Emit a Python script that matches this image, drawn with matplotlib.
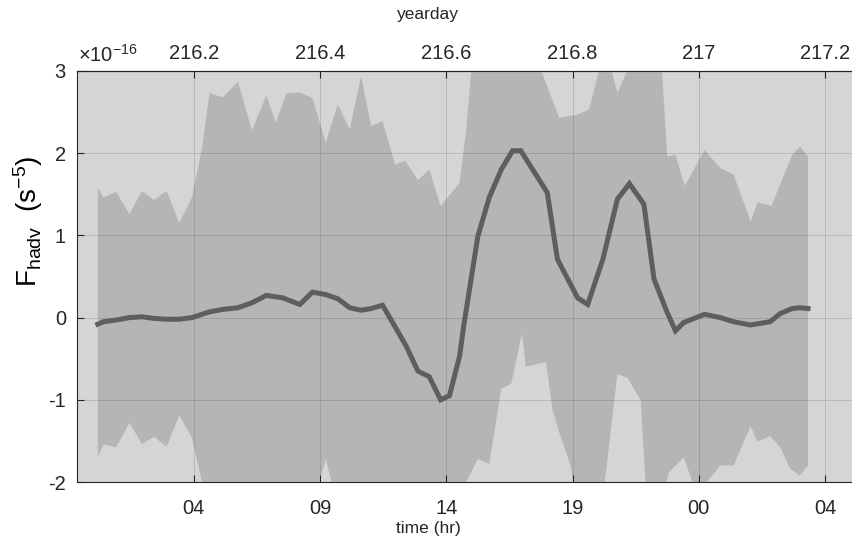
import numpy as np
import matplotlib.pyplot as plt

plt.rcParams['font.family'] = ['Liberation Sans', 'DejaVu Sans']
plt.rcParams['mathtext.fontset'] = 'custom'
plt.rcParams['mathtext.rm'] = 'Liberation Sans'
plt.rcParams['mathtext.it'] = 'Liberation Sans:italic'
plt.rcParams['axes.unicode_minus'] = False

# F_hadv, units of 1e-16 s^-5, against yearday
t_mean = [216.048, 216.057, 216.077, 216.098, 216.118, 216.137, 216.157, 216.177,
          216.197, 216.213, 216.225, 216.246, 216.270, 216.292, 216.315, 216.341,
          216.368, 216.388, 216.409, 216.428, 216.447, 216.465, 216.481, 216.499,
          216.518, 216.536, 216.555, 216.573, 216.591, 216.605, 216.621, 216.628,
          216.650, 216.668, 216.687, 216.705, 216.718, 216.760, 216.776, 216.808,
          216.824, 216.848, 216.871, 216.890, 216.913, 216.929, 216.950, 216.963,
          216.976, 217.009, 217.034, 217.055, 217.082, 217.113, 217.129, 217.148,
          217.159, 217.173]
hadv_mean = [-0.08, -0.05, -0.03, 0.00, 0.01, -0.01, -0.02, -0.02,
             0.00, 0.04, 0.07, 0.10, 0.12, 0.18, 0.27, 0.24,
             0.16, 0.31, 0.28, 0.23, 0.12, 0.09, 0.11, 0.15,
             -0.10, -0.34, -0.65, -0.72, -1.00, -0.95, -0.47, -0.08,
             0.99, 1.46, 1.80, 2.03, 2.03, 1.52, 0.71, 0.24,
             0.16, 0.71, 1.44, 1.63, 1.38, 0.47, 0.06, -0.16,
             -0.06, 0.04, 0.00, -0.05, -0.09, -0.05, 0.05, 0.11,
             0.12, 0.11]

t_up = [216.048, 216.057, 216.077, 216.098, 216.118, 216.137, 216.157, 216.177,
        216.197, 216.213, 216.225, 216.246, 216.270, 216.292, 216.315, 216.330,
        216.347, 216.368, 216.388, 216.409, 216.428, 216.447, 216.465, 216.481,
        216.499, 216.519, 216.535, 216.555, 216.573, 216.591, 216.602, 216.621,
        216.631, 216.642, 216.700, 216.738, 216.779, 216.808, 216.826, 216.852,
        216.871, 216.895, 216.920, 216.940, 216.950, 216.963, 216.978, 217.009,
        217.034, 217.055, 217.082, 217.093, 217.115, 217.148, 217.160, 217.173]
hadv_up = [1.58, 1.46, 1.53, 1.26, 1.54, 1.43, 1.54, 1.15,
           1.46, 2.06, 2.73, 2.68, 2.87, 2.28, 2.70, 2.37,
           2.73, 2.74, 2.67, 2.13, 2.59, 2.29, 2.94, 2.33,
           2.39, 1.86, 1.91, 1.67, 1.80, 1.36, 1.46, 1.64,
           2.25, 3.20, 3.60, 3.25, 2.43, 2.47, 2.53, 3.30,
           2.73, 3.15, 3.50, 3.20, 1.96, 1.98, 1.60, 2.04,
           1.82, 1.74, 1.17, 1.40, 1.36, 1.98, 2.08, 1.96]

t_lo = [216.048, 216.057, 216.077, 216.098, 216.118, 216.137, 216.157, 216.177,
        216.197, 216.225, 216.388, 216.409, 216.428, 216.605, 216.650, 216.668,
        216.687, 216.703, 216.720, 216.726, 216.758, 216.768, 216.779, 216.797,
        216.808, 216.845, 216.871, 216.887, 216.908, 216.920, 216.942, 216.953,
        216.976, 216.997, 217.034, 217.055, 217.082, 217.093, 217.113, 217.129,
        217.145, 217.160, 217.173]
hadv_lo = [-1.70, -1.54, -1.58, -1.28, -1.54, -1.45, -1.57, -1.19,
           -1.46, -2.40, -2.30, -1.72, -2.30, -2.40, -1.72, -1.78,
           -0.87, -0.80, -0.19, -0.60, -0.54, -1.11, -1.40, -1.80,
           -2.40, -2.40, -0.69, -0.73, -1.01, -2.60, -2.20, -1.88,
           -1.70, -2.15, -1.80, -1.80, -1.32, -1.51, -1.44, -1.58,
           -1.84, -1.92, -1.80]

day_ticks = [216.2, 216.4, 216.6, 216.8, 217.0, 217.2]
day_labels = ['216.2', '216.4', '216.6', '216.8', '217', '217.2']
hour_labels = ['04', '09', '14', '19', '00', '04']

fig = plt.figure(figsize=(8.53, 5.42), dpi=100)
ax = fig.add_axes([77 / 853, 60 / 542, 778 / 853, 411 / 542])
ax.set_facecolor('#d5d5d5')

ax.fill(np.r_[t_up, t_lo[::-1]], np.r_[hadv_up, hadv_lo[::-1]],
        color='#b5b5b5', lw=0, zorder=1)
ax.plot(t_mean, hadv_mean, color='#5e5e5e', lw=3.6, zorder=3,
        solid_joinstyle='miter')

ax.set_xlim(216.015, 217.2474)
ax.set_ylim(-2, 3)
ax.set_yticks([-2, -1, 0, 1, 2, 3])
ax.set_xticks(day_ticks)
ax.set_xticklabels(hour_labels)
ax.set_axisbelow(False)
ax.grid(True, color='black', alpha=0.13, lw=0.7, zorder=2)

dark = '#262626'
for s in ['left', 'bottom', 'top']:
    ax.spines[s].set_color(dark)
    ax.spines[s].set_linewidth(0.8)
ax.spines['right'].set_visible(False)
ax.tick_params(axis='x', direction='in', length=5, width=0.8, color=dark,
               labelsize=14.5, labelcolor=dark, pad=12)
ax.tick_params(axis='y', direction='in', length=5, width=0.8, color=dark,
               labelsize=14.5, labelcolor=dark, pad=8)

top = ax.secondary_xaxis('top')
top.set_xticks(day_ticks)
top.set_xticklabels(day_labels)
top.tick_params(direction='in', length=5, width=0.8, color=dark,
                labelsize=14.5, labelcolor=dark, pad=6)
top.spines['top'].set_color(dark)
top.spines['top'].set_linewidth(0.8)

fig.text(428 / 853, 1 - 14 / 542, 'yearday', ha='center', va='center',
         fontsize=12.5, color=dark)
fig.text(428 / 853, 1 - 528 / 542, 'time (hr)', ha='center', va='center',
         fontsize=12.5, color=dark)
fig.text(78 / 853, 1 - 62 / 542, r'$\times$10$^{-16}$', ha='left',
         va='baseline', fontsize=14.5, color=dark)
fig.text(28 / 853, 1 - 221 / 542, r'F$_{\mathrm{hadv}}$  (s$^{\mathrm{-5}}$)',
         rotation=90, ha='center', va='center', fontsize=20, color='black')

fig.savefig('out.png', dpi=100)
